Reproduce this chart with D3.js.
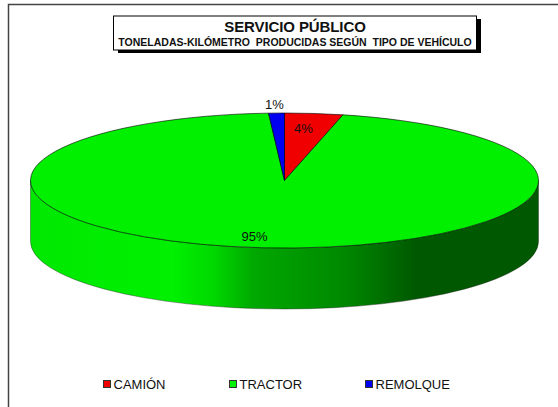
<!DOCTYPE html>
<html>
<head>
<meta charset="utf-8">
<script src="https://cdn.jsdelivr.net/npm/d3@7"></script>
<style>
  html, body { margin: 0; padding: 0; background: #fff; overflow: hidden; }
  text { font-family: "Liberation Sans", Arial, sans-serif; fill: #111; }
</style>
</head>
<body>
<div id="main"></div>
<script>
const categories = ['CAMIÓN', 'TRACTOR', 'REMOLQUE'];
const shares = [3.7, 95.3, 1.0];
const shareLabels = ['4%', '95%', '1%'];
const colors = ['#f00000', '#00f000', '#0000f0'];
const titleLines = ['SERVICIO PÚBLICO', 'TONELADAS-KILÓMETRO  PRODUCIDAS SEGÚN  TIPO DE VEHÍCULO'];
const wallStops = [
  { at: 0, color: '#00e800' },
  { at: 0.28, color: '#00f000' },
  { at: 0.36, color: '#00d800' },
  { at: 0.44, color: '#00a800' },
  { at: 0.62, color: '#008800' },
  { at: 0.76, color: '#005800' },
  { at: 1, color: '#005800' }
];

const width = 558;
const height = 407;
const cx = 284.5;
const cy = 180.5;
const rx = 254;
const ry = 67.5;
const depth = 61;

const svg = d3.select('#main').append('svg')
  .attr('width', width)
  .attr('height', height)
  .style('display', 'block');

// outer frame, only top and left show in the crop
svg.append('path')
  .attr('d', `M8.5,${height} V4.5 H${width}`)
  .attr('fill', 'none')
  .attr('stroke', '#444')
  .attr('stroke-width', 1.5);

// title box with shadow
svg.append('rect')
  .attr('x', 118).attr('y', 19)
  .attr('width', 363).attr('height', 34)
  .attr('fill', '#000');
svg.append('rect')
  .attr('x', 113.5).attr('y', 16)
  .attr('width', 363).attr('height', 34)
  .attr('fill', '#fff')
  .attr('stroke', '#000');
svg.append('text')
  .attr('x', 295).attr('y', 32)
  .attr('text-anchor', 'middle')
  .attr('font-size', 15)
  .attr('font-weight', 'bold')
  .attr('letter-spacing', -0.1)
  .text(titleLines[0]);
svg.append('text')
  .attr('x', 295).attr('y', 46)
  .attr('text-anchor', 'middle')
  .attr('font-size', 10.5)
  .attr('font-weight', 'bold')
  .style('white-space', 'pre')
  .text(titleLines[1]);

// side wall gradient
const grad = svg.append('defs').append('linearGradient')
  .attr('id', 'wall')
  .attr('x1', 0).attr('x2', 1).attr('y1', 0).attr('y2', 0);
grad.selectAll('stop')
  .data(wallStops)
  .join('stop')
    .attr('offset', d => d.at)
    .attr('stop-color', d => d.color);

svg.append('path')
  .attr('d', `M${cx - rx},${cy} V${cy + depth} A${rx},${ry} 0 0 0 ${cx + rx},${cy + depth} V${cy} A${rx},${ry} 0 0 1 ${cx - rx},${cy} Z`)
  .attr('fill', 'url(#wall)')
  .attr('stroke', '#222')
  .attr('stroke-width', 0.4);

// top face: a flat pie squashed to an ellipse
const pie = d3.pie().sort(null);
const arc = d3.arc().innerRadius(0).outerRadius(rx);
const slices = pie(shares);
const face = svg.append('g')
  .attr('transform', `translate(${cx},${cy}) scale(1,${ry / rx})`);
face.selectAll('path')
  .data(slices)
  .join('path')
    .attr('d', arc)
    .attr('fill', (d, i) => colors[i])
    .attr('stroke', '#000')
    .attr('stroke-width', 0.6)
    .attr('vector-effect', 'non-scaling-stroke');

// data labels
const labelPos = [
  { dx: 19, dy: -51 },
  { dx: -30, dy: 57 },
  { dx: -10, dy: -75 }
];
svg.selectAll('.share')
  .data(shareLabels)
  .join('text')
    .attr('class', 'share')
    .attr('x', (d, i) => cx + labelPos[i].dx)
    .attr('y', (d, i) => cy + labelPos[i].dy)
    .attr('text-anchor', 'middle')
    .attr('font-size', 13)
    .attr('dominant-baseline', 'middle')
    .text(d => d);

// legend entries are not evenly spaced in the original
const legendX = d3.scaleOrdinal().domain(categories).range([103.5, 229.5, 365.5]);
const legend = svg.selectAll('.legend')
  .data(categories)
  .join('g')
    .attr('class', 'legend')
    .attr('transform', d => `translate(${legendX(d)},380.5)`);
legend.append('rect')
  .attr('width', 7).attr('height', 7)
  .attr('fill', (d, i) => colors[i])
  .attr('stroke', '#333');
legend.append('text')
  .attr('x', 10).attr('y', 8.5)
  .attr('font-size', 13)
  .text(d => d);
</script>
</body>
</html>
